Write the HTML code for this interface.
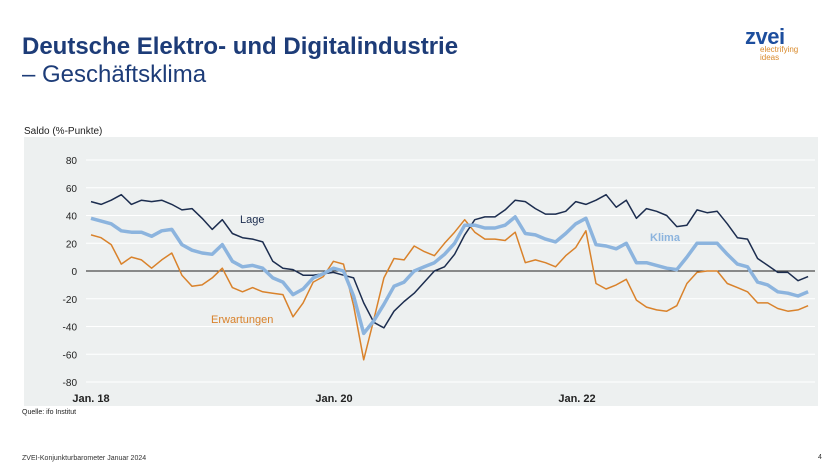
<!DOCTYPE html>
<html><head><meta charset="utf-8"><style>
body{margin:0;width:840px;height:473px;background:#fff;font-family:"Liberation Sans",Arial,sans-serif;overflow:hidden;position:relative}
.t1{position:absolute;left:22px;top:33px;font-size:24px;font-weight:bold;color:#1d3c78}
.t2{position:absolute;left:22px;top:61px;font-size:24px;color:#1d3c78}
.logo{position:absolute;left:745px;top:24px;font-size:22px;color:#1d4e9e;font-weight:bold;letter-spacing:-0.5px}
.logo2{position:absolute;left:760px;top:46px;font-size:8px;line-height:8px;color:#d98a2b}
.foot{position:absolute;left:22px;top:455px;font-size:7px;color:#333}
.pg{position:absolute;left:818px;top:454px;font-size:7px;color:#333}
</style></head><body>
<div class="t1">Deutsche Elektro- und Digitalindustrie</div>
<div class="t2">– Geschäftsklima</div>
<div class="logo">zvei</div>
<div class="logo2">electrifying<br>ideas</div>
<svg width="840" height="473" style="position:absolute;left:0;top:0" id="s">
<text x="24" y="134" font-size="10" fill="#222">Saldo (%-Punkte)</text>
<rect x="24" y="137" width="794" height="269" fill="#edf0f0"/>
<g id="g"></g>
<text x="22" y="414" font-size="7" fill="#222">Quelle: ifo Institut</text>
</svg>
<div class="foot">ZVEI-Konjunkturbarometer Januar 2024</div>
<div class="pg">4</div>
<script>
var g=document.getElementById('g'),h='';
function Y(v){return 271-v*1.3875}
function X(i){return 91+i*10.1}
for(var v=-80;v<=80;v+=20){var y=Y(v);
 if(v!=0)h+='<line x1="86" x2="815" y1="'+y+'" y2="'+y+'" stroke="#fff" stroke-width="1"/>';
 h+='<text x="77" y="'+(y+4)+'" font-size="10" text-anchor="end" fill="#222">'+v+'</text>';}
h+='<line x1="86" x2="815" y1="271" y2="271" stroke="#222" stroke-width="1"/>';
var L=[50,48,51,55,48,51,50,51,48,44,45,38,30,37,27,24,23,21,7,2,1,-3,-3,-2,-1,-3,-5,-23,-37,-41,-29,-22,-16,-8,0,3,12,26,37,39,39,44,51,50,45,41,41,43,50,48,51,55,46,51,38,45,43,40,32,33,44,42,43,34,24,23,9,4,-1,-1,-7,-4];
var K=[38,36,34,29,28,28,25,29,30,19,15,13,12,19,7,3,4,2,-5,-8,-17,-13,-5,-2,2,0,-18,-45,-36,-24,-11,-8,0,3,6,12,20,33,33,31,31,33,39,27,26,23,21,27,34,38,19,18,16,20,6,6,4,2,1,10,20,20,20,12,5,3,-8,-10,-15,-16,-18,-15];
var E=[26,24,19,5,10,8,2,8,13,-3,-11,-10,-5,2,-12,-15,-12,-15,-16,-17,-33,-23,-8,-4,7,5,-25,-64,-35,-5,9,8,18,14,11,20,28,37,28,23,23,22,28,6,8,6,3,11,17,29,-9,-13,-10,-6,-21,-26,-28,-29,-25,-9,-1,0,0,-9,-12,-15,-23,-23,-27,-29,-28,-25];
function P(a,c,w){return '<polyline fill="none" stroke="'+c+'" stroke-width="'+w+'" stroke-linejoin="round" points="'+a.map(function(v,i){return X(i).toFixed(1)+','+Y(v).toFixed(1)}).join(' ')+'"/>';}
h+=P(E,'#d9822b',1.5)+P(L,'#1c2d4f',1.5)+P(K,'#8cb4de',3.5);
h+='<text x="240" y="223" font-size="11" fill="#1c2d4f">Lage</text>';
h+='<text x="211" y="323" font-size="11" fill="#d9822b">Erwartungen</text>';
h+='<text x="650" y="241" font-size="11" font-weight="bold" fill="#8cb4de">Klima</text>';
h+='<text x="91" y="402" font-size="11" font-weight="bold" text-anchor="middle" fill="#222">Jan. 18</text>';
h+='<text x="334" y="402" font-size="11" font-weight="bold" text-anchor="middle" fill="#222">Jan. 20</text>';
h+='<text x="577" y="402" font-size="11" font-weight="bold" text-anchor="middle" fill="#222">Jan. 22</text>';
g.innerHTML=h;
</script>
</body></html>
